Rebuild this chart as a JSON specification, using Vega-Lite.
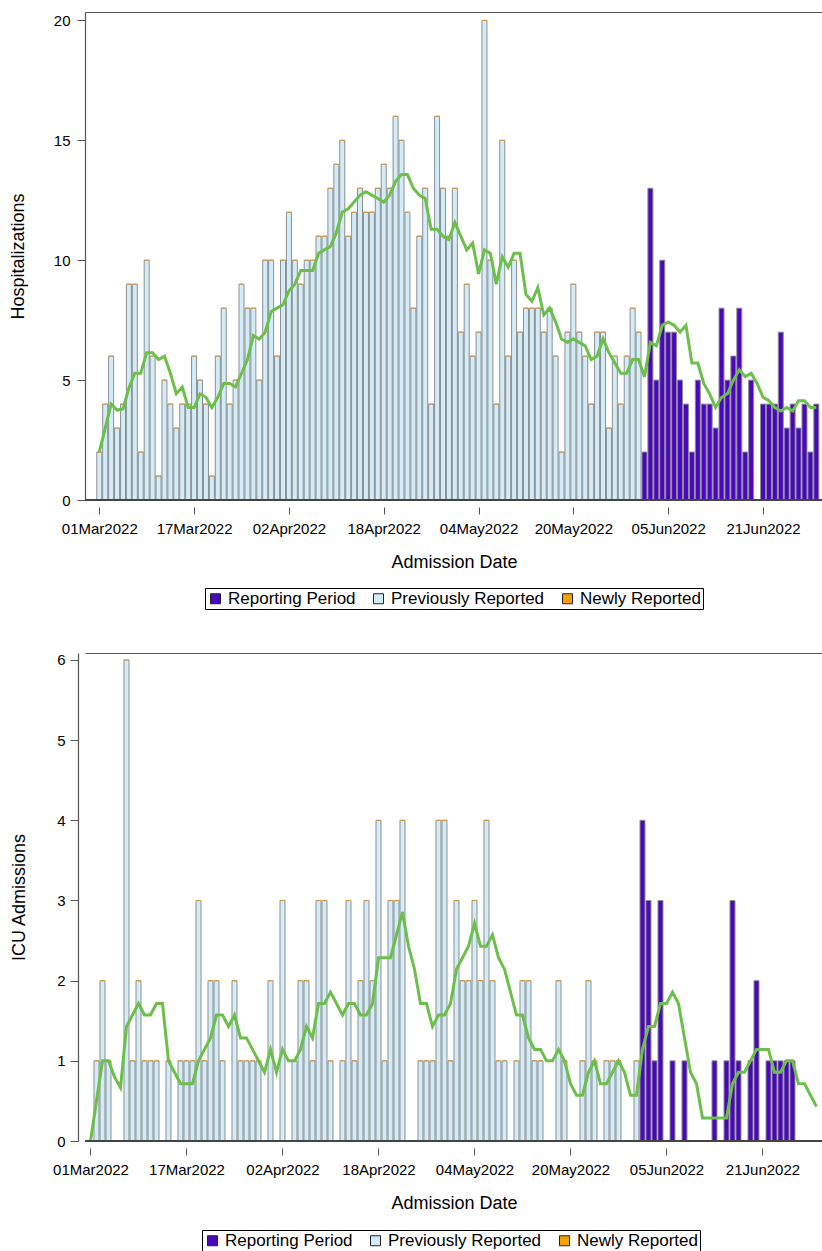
{
"$schema": "https://vega.github.io/schema/vega-lite/v6.json",
"background": "white",
"padding": {"left": 9, "top": 12, "right": 0, "bottom": 0},
"config": {
  "font": "Liberation Sans",
  "view": {"stroke": null},
  "axis": {"labelFont": "Liberation Sans", "titleFont": "Liberation Sans", "labelColor": "#000", "titleColor": "#000", "titleFontWeight": "normal", "grid": false, "domainColor": "#555", "tickColor": "#555", "domainWidth": 1.2, "tickWidth": 1},
  "legend": {"orient": "none", "direction": "horizontal", "columns": 3, "title": null, "symbolType": "square", "symbolSize": 100, "symbolStrokeColor": "#222", "symbolStrokeWidth": 1, "symbolOpacity": 1, "labelFont": "Liberation Sans", "labelFontSize": 17, "labelColor": "#000", "labelOffset": 4, "columnPadding": 14, "padding": 2, "strokeColor": "#000", "fillColor": "#fff"}
},
"datasets": {
"hosp": [
{"d":"2022-03-01","v":2,"p":"Previously Reported"},{"d":"2022-03-02","v":4,"p":"Previously Reported"},{"d":"2022-03-03","v":6,"p":"Previously Reported"},{"d":"2022-03-04","v":3,"p":"Previously Reported"},{"d":"2022-03-05","v":4,"p":"Previously Reported"},{"d":"2022-03-06","v":9,"p":"Previously Reported"},{"d":"2022-03-07","v":9,"p":"Previously Reported"},{"d":"2022-03-08","v":2,"p":"Previously Reported"},{"d":"2022-03-09","v":10,"p":"Previously Reported"},{"d":"2022-03-10","v":6,"p":"Previously Reported"},{"d":"2022-03-11","v":1,"p":"Previously Reported"},{"d":"2022-03-12","v":5,"p":"Previously Reported"},{"d":"2022-03-13","v":4,"p":"Previously Reported"},{"d":"2022-03-14","v":3,"p":"Previously Reported"},{"d":"2022-03-15","v":4,"p":"Previously Reported"},{"d":"2022-03-16","v":4,"p":"Previously Reported"},{"d":"2022-03-17","v":6,"p":"Previously Reported"},{"d":"2022-03-18","v":5,"p":"Previously Reported"},{"d":"2022-03-19","v":4,"p":"Previously Reported"},{"d":"2022-03-20","v":1,"p":"Previously Reported"},{"d":"2022-03-21","v":6,"p":"Previously Reported"},{"d":"2022-03-22","v":8,"p":"Previously Reported"},{"d":"2022-03-23","v":4,"p":"Previously Reported"},{"d":"2022-03-24","v":5,"p":"Previously Reported"},{"d":"2022-03-25","v":9,"p":"Previously Reported"},{"d":"2022-03-26","v":8,"p":"Previously Reported"},{"d":"2022-03-27","v":8,"p":"Previously Reported"},{"d":"2022-03-28","v":5,"p":"Previously Reported"},{"d":"2022-03-29","v":10,"p":"Previously Reported"},{"d":"2022-03-30","v":10,"p":"Previously Reported"},{"d":"2022-03-31","v":6,"p":"Previously Reported"},
{"d":"2022-04-01","v":10,"p":"Previously Reported"},{"d":"2022-04-02","v":12,"p":"Previously Reported"},{"d":"2022-04-03","v":10,"p":"Previously Reported"},{"d":"2022-04-04","v":9,"p":"Previously Reported"},{"d":"2022-04-05","v":10,"p":"Previously Reported"},{"d":"2022-04-06","v":10,"p":"Previously Reported"},{"d":"2022-04-07","v":11,"p":"Previously Reported"},{"d":"2022-04-08","v":11,"p":"Previously Reported"},{"d":"2022-04-09","v":13,"p":"Previously Reported"},{"d":"2022-04-10","v":14,"p":"Previously Reported"},{"d":"2022-04-11","v":15,"p":"Previously Reported"},{"d":"2022-04-12","v":11,"p":"Previously Reported"},{"d":"2022-04-13","v":12,"p":"Previously Reported"},{"d":"2022-04-14","v":13,"p":"Previously Reported"},{"d":"2022-04-15","v":12,"p":"Previously Reported"},{"d":"2022-04-16","v":12,"p":"Previously Reported"},{"d":"2022-04-17","v":13,"p":"Previously Reported"},{"d":"2022-04-18","v":14,"p":"Previously Reported"},{"d":"2022-04-19","v":13,"p":"Previously Reported"},{"d":"2022-04-20","v":16,"p":"Previously Reported"},{"d":"2022-04-21","v":15,"p":"Previously Reported"},{"d":"2022-04-22","v":12,"p":"Previously Reported"},{"d":"2022-04-23","v":8,"p":"Previously Reported"},{"d":"2022-04-24","v":11,"p":"Previously Reported"},{"d":"2022-04-25","v":13,"p":"Previously Reported"},{"d":"2022-04-26","v":4,"p":"Previously Reported"},{"d":"2022-04-27","v":16,"p":"Previously Reported"},{"d":"2022-04-28","v":13,"p":"Previously Reported"},{"d":"2022-04-29","v":11,"p":"Previously Reported"},{"d":"2022-04-30","v":13,"p":"Previously Reported"},
{"d":"2022-05-01","v":7,"p":"Previously Reported"},{"d":"2022-05-02","v":9,"p":"Previously Reported"},{"d":"2022-05-03","v":6,"p":"Previously Reported"},{"d":"2022-05-04","v":7,"p":"Previously Reported"},{"d":"2022-05-05","v":20,"p":"Previously Reported"},{"d":"2022-05-06","v":10,"p":"Previously Reported"},{"d":"2022-05-07","v":4,"p":"Previously Reported"},{"d":"2022-05-08","v":15,"p":"Previously Reported"},{"d":"2022-05-09","v":6,"p":"Previously Reported"},{"d":"2022-05-10","v":10,"p":"Previously Reported"},{"d":"2022-05-11","v":7,"p":"Previously Reported"},{"d":"2022-05-12","v":8,"p":"Previously Reported"},{"d":"2022-05-13","v":8,"p":"Previously Reported"},{"d":"2022-05-14","v":8,"p":"Previously Reported"},{"d":"2022-05-15","v":7,"p":"Previously Reported"},{"d":"2022-05-16","v":8,"p":"Previously Reported"},{"d":"2022-05-17","v":6,"p":"Previously Reported"},{"d":"2022-05-18","v":2,"p":"Previously Reported"},{"d":"2022-05-19","v":7,"p":"Previously Reported"},{"d":"2022-05-20","v":9,"p":"Previously Reported"},{"d":"2022-05-21","v":7,"p":"Previously Reported"},{"d":"2022-05-22","v":6,"p":"Previously Reported"},{"d":"2022-05-23","v":4,"p":"Previously Reported"},{"d":"2022-05-24","v":7,"p":"Previously Reported"},{"d":"2022-05-25","v":7,"p":"Previously Reported"},{"d":"2022-05-26","v":3,"p":"Previously Reported"},{"d":"2022-05-27","v":6,"p":"Previously Reported"},{"d":"2022-05-28","v":4,"p":"Previously Reported"},{"d":"2022-05-29","v":6,"p":"Previously Reported"},{"d":"2022-05-30","v":8,"p":"Previously Reported"},{"d":"2022-05-31","v":7,"p":"Previously Reported"},
{"d":"2022-06-01","v":2,"p":"Reporting Period"},{"d":"2022-06-02","v":13,"p":"Reporting Period"},{"d":"2022-06-03","v":5,"p":"Reporting Period"},{"d":"2022-06-04","v":10,"p":"Reporting Period"},{"d":"2022-06-05","v":7,"p":"Reporting Period"},{"d":"2022-06-06","v":7,"p":"Reporting Period"},{"d":"2022-06-07","v":5,"p":"Reporting Period"},{"d":"2022-06-08","v":4,"p":"Reporting Period"},{"d":"2022-06-09","v":2,"p":"Reporting Period"},{"d":"2022-06-10","v":5,"p":"Reporting Period"},{"d":"2022-06-11","v":4,"p":"Reporting Period"},{"d":"2022-06-12","v":4,"p":"Reporting Period"},{"d":"2022-06-13","v":3,"p":"Reporting Period"},{"d":"2022-06-14","v":8,"p":"Reporting Period"},{"d":"2022-06-15","v":5,"p":"Reporting Period"},{"d":"2022-06-16","v":6,"p":"Reporting Period"},{"d":"2022-06-17","v":8,"p":"Reporting Period"},{"d":"2022-06-18","v":2,"p":"Reporting Period"},{"d":"2022-06-19","v":5,"p":"Reporting Period"},{"d":"2022-06-20","v":0,"p":"Reporting Period"},{"d":"2022-06-21","v":4,"p":"Reporting Period"},{"d":"2022-06-22","v":4,"p":"Reporting Period"},{"d":"2022-06-23","v":4,"p":"Reporting Period"},{"d":"2022-06-24","v":7,"p":"Reporting Period"},{"d":"2022-06-25","v":3,"p":"Reporting Period"},{"d":"2022-06-26","v":4,"p":"Reporting Period"},{"d":"2022-06-27","v":3,"p":"Reporting Period"},{"d":"2022-06-28","v":4,"p":"Reporting Period"},{"d":"2022-06-29","v":2,"p":"Reporting Period"},{"d":"2022-06-30","v":4,"p":"Reporting Period"}
],
"icu": [
{"d":"2022-03-01","v":0,"p":"Previously Reported"},{"d":"2022-03-02","v":1,"p":"Previously Reported"},{"d":"2022-03-03","v":2,"p":"Previously Reported"},{"d":"2022-03-04","v":1,"p":"Previously Reported"},{"d":"2022-03-05","v":0,"p":"Previously Reported"},{"d":"2022-03-06","v":0,"p":"Previously Reported"},{"d":"2022-03-07","v":6,"p":"Previously Reported"},{"d":"2022-03-08","v":1,"p":"Previously Reported"},{"d":"2022-03-09","v":2,"p":"Previously Reported"},{"d":"2022-03-10","v":1,"p":"Previously Reported"},{"d":"2022-03-11","v":1,"p":"Previously Reported"},{"d":"2022-03-12","v":1,"p":"Previously Reported"},{"d":"2022-03-13","v":0,"p":"Previously Reported"},{"d":"2022-03-14","v":1,"p":"Previously Reported"},{"d":"2022-03-15","v":0,"p":"Previously Reported"},{"d":"2022-03-16","v":1,"p":"Previously Reported"},{"d":"2022-03-17","v":1,"p":"Previously Reported"},{"d":"2022-03-18","v":1,"p":"Previously Reported"},{"d":"2022-03-19","v":3,"p":"Previously Reported"},{"d":"2022-03-20","v":1,"p":"Previously Reported"},{"d":"2022-03-21","v":2,"p":"Previously Reported"},{"d":"2022-03-22","v":2,"p":"Previously Reported"},{"d":"2022-03-23","v":1,"p":"Previously Reported"},{"d":"2022-03-24","v":0,"p":"Previously Reported"},{"d":"2022-03-25","v":2,"p":"Previously Reported"},{"d":"2022-03-26","v":1,"p":"Previously Reported"},{"d":"2022-03-27","v":1,"p":"Previously Reported"},{"d":"2022-03-28","v":1,"p":"Previously Reported"},{"d":"2022-03-29","v":1,"p":"Previously Reported"},{"d":"2022-03-30","v":0,"p":"Previously Reported"},{"d":"2022-03-31","v":2,"p":"Previously Reported"},
{"d":"2022-04-01","v":0,"p":"Previously Reported"},{"d":"2022-04-02","v":3,"p":"Previously Reported"},{"d":"2022-04-03","v":0,"p":"Previously Reported"},{"d":"2022-04-04","v":1,"p":"Previously Reported"},{"d":"2022-04-05","v":2,"p":"Previously Reported"},{"d":"2022-04-06","v":2,"p":"Previously Reported"},{"d":"2022-04-07","v":1,"p":"Previously Reported"},{"d":"2022-04-08","v":3,"p":"Previously Reported"},{"d":"2022-04-09","v":3,"p":"Previously Reported"},{"d":"2022-04-10","v":1,"p":"Previously Reported"},{"d":"2022-04-11","v":0,"p":"Previously Reported"},{"d":"2022-04-12","v":1,"p":"Previously Reported"},{"d":"2022-04-13","v":3,"p":"Previously Reported"},{"d":"2022-04-14","v":1,"p":"Previously Reported"},{"d":"2022-04-15","v":2,"p":"Previously Reported"},{"d":"2022-04-16","v":3,"p":"Previously Reported"},{"d":"2022-04-17","v":2,"p":"Previously Reported"},{"d":"2022-04-18","v":4,"p":"Previously Reported"},{"d":"2022-04-19","v":1,"p":"Previously Reported"},{"d":"2022-04-20","v":3,"p":"Previously Reported"},{"d":"2022-04-21","v":3,"p":"Previously Reported"},{"d":"2022-04-22","v":4,"p":"Previously Reported"},{"d":"2022-04-23","v":0,"p":"Previously Reported"},{"d":"2022-04-24","v":0,"p":"Previously Reported"},{"d":"2022-04-25","v":1,"p":"Previously Reported"},{"d":"2022-04-26","v":1,"p":"Previously Reported"},{"d":"2022-04-27","v":1,"p":"Previously Reported"},{"d":"2022-04-28","v":4,"p":"Previously Reported"},{"d":"2022-04-29","v":4,"p":"Previously Reported"},{"d":"2022-04-30","v":1,"p":"Previously Reported"},
{"d":"2022-05-01","v":3,"p":"Previously Reported"},{"d":"2022-05-02","v":2,"p":"Previously Reported"},{"d":"2022-05-03","v":2,"p":"Previously Reported"},{"d":"2022-05-04","v":3,"p":"Previously Reported"},{"d":"2022-05-05","v":2,"p":"Previously Reported"},{"d":"2022-05-06","v":4,"p":"Previously Reported"},{"d":"2022-05-07","v":2,"p":"Previously Reported"},{"d":"2022-05-08","v":1,"p":"Previously Reported"},{"d":"2022-05-09","v":1,"p":"Previously Reported"},{"d":"2022-05-10","v":0,"p":"Previously Reported"},{"d":"2022-05-11","v":1,"p":"Previously Reported"},{"d":"2022-05-12","v":2,"p":"Previously Reported"},{"d":"2022-05-13","v":2,"p":"Previously Reported"},{"d":"2022-05-14","v":1,"p":"Previously Reported"},{"d":"2022-05-15","v":1,"p":"Previously Reported"},{"d":"2022-05-16","v":0,"p":"Previously Reported"},{"d":"2022-05-17","v":0,"p":"Previously Reported"},{"d":"2022-05-18","v":2,"p":"Previously Reported"},{"d":"2022-05-19","v":1,"p":"Previously Reported"},{"d":"2022-05-20","v":0,"p":"Previously Reported"},{"d":"2022-05-21","v":0,"p":"Previously Reported"},{"d":"2022-05-22","v":1,"p":"Previously Reported"},{"d":"2022-05-23","v":2,"p":"Previously Reported"},{"d":"2022-05-24","v":1,"p":"Previously Reported"},{"d":"2022-05-25","v":0,"p":"Previously Reported"},{"d":"2022-05-26","v":1,"p":"Previously Reported"},{"d":"2022-05-27","v":1,"p":"Previously Reported"},{"d":"2022-05-28","v":1,"p":"Previously Reported"},{"d":"2022-05-29","v":0,"p":"Previously Reported"},{"d":"2022-05-30","v":0,"p":"Previously Reported"},{"d":"2022-05-31","v":1,"p":"Previously Reported"},
{"d":"2022-06-01","v":4,"p":"Reporting Period"},{"d":"2022-06-02","v":3,"p":"Reporting Period"},{"d":"2022-06-03","v":1,"p":"Reporting Period"},{"d":"2022-06-04","v":3,"p":"Reporting Period"},{"d":"2022-06-05","v":0,"p":"Reporting Period"},{"d":"2022-06-06","v":1,"p":"Reporting Period"},{"d":"2022-06-07","v":0,"p":"Reporting Period"},{"d":"2022-06-08","v":1,"p":"Reporting Period"},{"d":"2022-06-09","v":0,"p":"Reporting Period"},{"d":"2022-06-10","v":0,"p":"Reporting Period"},{"d":"2022-06-11","v":0,"p":"Reporting Period"},{"d":"2022-06-12","v":0,"p":"Reporting Period"},{"d":"2022-06-13","v":1,"p":"Reporting Period"},{"d":"2022-06-14","v":0,"p":"Reporting Period"},{"d":"2022-06-15","v":1,"p":"Reporting Period"},{"d":"2022-06-16","v":3,"p":"Reporting Period"},{"d":"2022-06-17","v":1,"p":"Reporting Period"},{"d":"2022-06-18","v":0,"p":"Reporting Period"},{"d":"2022-06-19","v":1,"p":"Reporting Period"},{"d":"2022-06-20","v":2,"p":"Reporting Period"},{"d":"2022-06-21","v":0,"p":"Reporting Period"},{"d":"2022-06-22","v":1,"p":"Reporting Period"},{"d":"2022-06-23","v":1,"p":"Reporting Period"},{"d":"2022-06-24","v":1,"p":"Reporting Period"},{"d":"2022-06-25","v":1,"p":"Reporting Period"},{"d":"2022-06-26","v":1,"p":"Reporting Period"},{"d":"2022-06-27","v":0,"p":"Reporting Period"},{"d":"2022-06-28","v":0,"p":"Reporting Period"},{"d":"2022-06-29","v":0,"p":"Reporting Period"},{"d":"2022-06-30","v":0,"p":"Reporting Period"}
]
},
"columns": 1,
"align": "none",
"spacing": 42,
"resolve": {"legend": {"color": "independent"}, "scale": {"color": "independent", "x": "independent", "y": "independent"}},
"concat": [
{
  "width": 738, "height": 488,
  "data": {"name": "hosp"},
  "transform": [{"window": [{"op": "mean", "field": "v", "as": "ma"}], "frame": [-6, 0], "sort": [{"field": "d"}]}],
  "layer": [
    {
      "mark": {"type": "bar", "size": 5, "stroke": "#8e8e8e", "strokeWidth": 1, "clip": true},
      "encoding": {
        "x": {"field": "d", "type": "temporal", "scale": {"type": "utc", "domain": [1645957584000, 1656571392000]},
              "axis": {"orient": "bottom", "values": [1646092800000, 1647475200000, 1648857600000, 1650240000000, 1651622400000, 1653004800000, 1654387200000, 1655769600000], "labelExpr": "utcFormat(datum.value, '%d%b%Y')", "offset": 7, "domain": false, "tickSize": 7, "labelPadding": 7, "labelFontSize": 15, "labelAngle": 0, "labelOverlap": false, "labelFlush": false, "title": "Admission Date", "titleFontSize": 18, "titlePadding": 17}},
        "y": {"field": "v", "type": "quantitative", "title": "Hospitalizations", "scale": {"domain": [0, 20.35], "nice": false, "zero": true},
              "axis": {"values": [0, 5, 10, 15, 20], "format": "d", "titleFontSize": 18, "titlePadding": 26, "labelFontSize": 15, "tickSize": 8, "labelPadding": 7, "domain": true}},
        "color": {"field": "p", "type": "nominal", "scale": {"domain": ["Reporting Period", "Previously Reported", "Newly Reported"], "range": ["#4A07BF", "#D2EDF9", "#F5A100"]},
                  "legend": {"legendX": 120, "legendY": 576}}
      }
    },
    {
      "transform": [{"filter": "datum.p == 'Previously Reported'"}],
      "mark": {"type": "tick", "orient": "horizontal", "color": "#E39A2A", "thickness": 1.2, "size": 5, "clip": true},
      "encoding": {
        "x": {"field": "d", "type": "temporal", "axis": null},
        "y": {"field": "v", "type": "quantitative", "title": "Hospitalizations"}
      }
    },
    {
      "mark": {"type": "line", "color": "#6CBF4A", "strokeWidth": 3, "clip": true},
      "encoding": {
        "x": {"field": "d", "type": "temporal", "axis": {"orient": "top", "labels": false, "ticks": false, "title": null, "domain": true}},
        "y": {"field": "ma", "type": "quantitative", "title": "Hospitalizations"}
      }
    },
    {
      "mark": {"type": "rule", "color": "#444", "strokeWidth": 1.5},
      "encoding": {"y": {"datum": 0}}
    }
  ],
  "resolve": {"axis": {"x": "independent"}}
},
{
  "width": 738, "height": 488,
  "data": {"name": "icu"},
  "transform": [{"window": [{"op": "mean", "field": "v", "as": "ma"}], "frame": [-6, 0], "sort": [{"field": "d"}]}],
  "layer": [
    {
      "mark": {"type": "bar", "size": 5, "stroke": "#8e8e8e", "strokeWidth": 1, "clip": true},
      "encoding": {
        "x": {"field": "d", "type": "temporal", "scale": {"type": "utc", "domain": [1646085715200, 1656568800000]},
              "axis": {"orient": "bottom", "values": [1646092800000, 1647475200000, 1648857600000, 1650240000000, 1651622400000, 1653004800000, 1654387200000, 1655769600000], "labelExpr": "utcFormat(datum.value, '%d%b%Y')", "offset": 7, "domain": false, "tickSize": 7, "labelPadding": 7, "labelFontSize": 15, "labelAngle": 0, "labelOverlap": false, "labelFlush": false, "title": "Admission Date", "titleFontSize": 18, "titlePadding": 17}},
        "y": {"field": "v", "type": "quantitative", "title": "ICU Admissions", "scale": {"domain": [0, 6.087], "nice": false, "zero": true},
              "axis": {"values": [0, 1, 2, 3, 4, 5, 6], "format": "d", "offset": 7, "titleFontSize": 18, "titlePadding": 28, "labelFontSize": 15, "tickSize": 8, "labelPadding": 5, "domain": true}},
        "color": {"field": "p", "type": "nominal", "scale": {"domain": ["Reporting Period", "Previously Reported", "Newly Reported"], "range": ["#4A07BF", "#D2EDF9", "#F5A100"]},
                  "legend": {"legendX": 117, "legendY": 577}}
      }
    },
    {
      "transform": [{"filter": "datum.p == 'Previously Reported'"}],
      "mark": {"type": "tick", "orient": "horizontal", "color": "#E39A2A", "thickness": 1.2, "size": 5, "clip": true},
      "encoding": {
        "x": {"field": "d", "type": "temporal", "axis": null},
        "y": {"field": "v", "type": "quantitative", "title": "ICU Admissions"}
      }
    },
    {
      "mark": {"type": "line", "color": "#6CBF4A", "strokeWidth": 3, "clip": true},
      "encoding": {
        "x": {"field": "d", "type": "temporal", "axis": {"orient": "top", "labels": false, "ticks": false, "title": null, "domain": true}},
        "y": {"field": "ma", "type": "quantitative", "title": "ICU Admissions"}
      }
    },
    {
      "mark": {"type": "rule", "color": "#444", "strokeWidth": 1.5},
      "encoding": {"y": {"datum": 0}}
    }
  ],
  "resolve": {"axis": {"x": "independent"}}
}
]
}
